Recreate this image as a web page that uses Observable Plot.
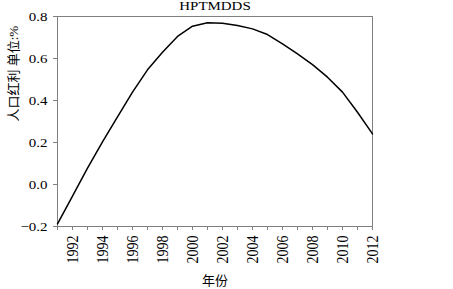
<!DOCTYPE html>
<html>
<head>
<meta charset="utf-8">
<script src="https://cdn.jsdelivr.net/npm/d3@7"></script>
<script src="https://cdn.jsdelivr.net/npm/@observablehq/plot@0.6"></script>
<style>
body { margin: 0; background: #fff; }
</style>
</head>
<body>
<div id="chart"></div>
<script>
const title = "HPTMDDS";
const xLabel = "年份";
const yLabel = "人口红利 单位:%";
const years = [1991,1992,1993,1994,1995,1996,1997,1998,1999,2000,2001,2002,2003,2004,2005,2006,2007,2008,2009,2010,2011,2012];
const values = [-0.187,-0.055,0.078,0.203,0.322,0.44,0.546,0.63,0.705,0.754,0.77,0.768,0.757,0.741,0.714,0.67,0.622,0.571,0.511,0.44,0.344,0.241];
const yTicks = [-0.2,0.0,0.2,0.4,0.6,0.8];

const data = years.map((y, i) => ({year: y, value: values[i]}));

const chart = Plot.plot({
  width: 453,
  height: 289,
  marginLeft: 57,
  marginRight: 81,
  marginTop: 16,
  marginBottom: 63,
  style: {fontFamily: "'Liberation Serif', 'Noto Sans CJK SC', serif", fontSize: "13px", color: "#000", background: "#fff"},
  x: {domain: [years[0], years[years.length - 1]]},
  y: {domain: [yTicks[0], yTicks[yTicks.length - 1]]},
  marks: [
    Plot.frame({stroke: "#808080"}),
    Plot.axisX({ticks: years, tickFormat: d => d % 2 === 0 ? String(d) : "", tickRotate: -90, tickSize: 4, tickPadding: 5, stroke: "#808080", label: null, fill: "#000", fontSize: 14}),
    Plot.axisY({ticks: yTicks, tickFormat: d3.format(".1f"), tickSize: 4, tickPadding: 6, stroke: "#808080", label: null, fill: "#000", fontSize: 13}),
    Plot.line(data, {x: "year", y: "value", stroke: "#000", strokeWidth: 1.5}),
    Plot.text([title], {frameAnchor: "top", dy: -11, lineAnchor: "middle", fontSize: 13, fill: "#000"}),
    Plot.text([xLabel], {frameAnchor: "bottom", dy: 54, lineAnchor: "middle", fontSize: 13, fill: "#000"}),
    Plot.text([yLabel], {frameAnchor: "left", dx: -44, rotate: -90, lineAnchor: "middle", fontSize: 13, fill: "#000"})
  ]
});

// Horizontal stretch of Latin text to match the reference's wider glyphs
function stretch(el, s) {
  const t = el.getAttribute("transform") || "";
  const m = t.match(/^\s*translate\(([^)]+)\)(.*)$/);
  if (m) {
    el.setAttribute("transform", `translate(${m[1]}) scale(${s},1)${m[2]}`);
  } else {
    const x = +el.getAttribute("x") || 0;
    const y = +el.getAttribute("y") || 0;
    el.setAttribute("transform", `${t} translate(${x},${y}) scale(${s},1) translate(${-x},${-y})`);
  }
}
chart.querySelectorAll('g[aria-label="y-axis tick label"] text, g[aria-label="x-axis tick label"] text').forEach(el => stretch(el, 1.15));
chart.querySelectorAll('g[aria-label="text"] text').forEach(el => {
  if (el.textContent === title) stretch(el, 1.15);
});
document.getElementById("chart").appendChild(chart);
</script>
</body>
</html>
